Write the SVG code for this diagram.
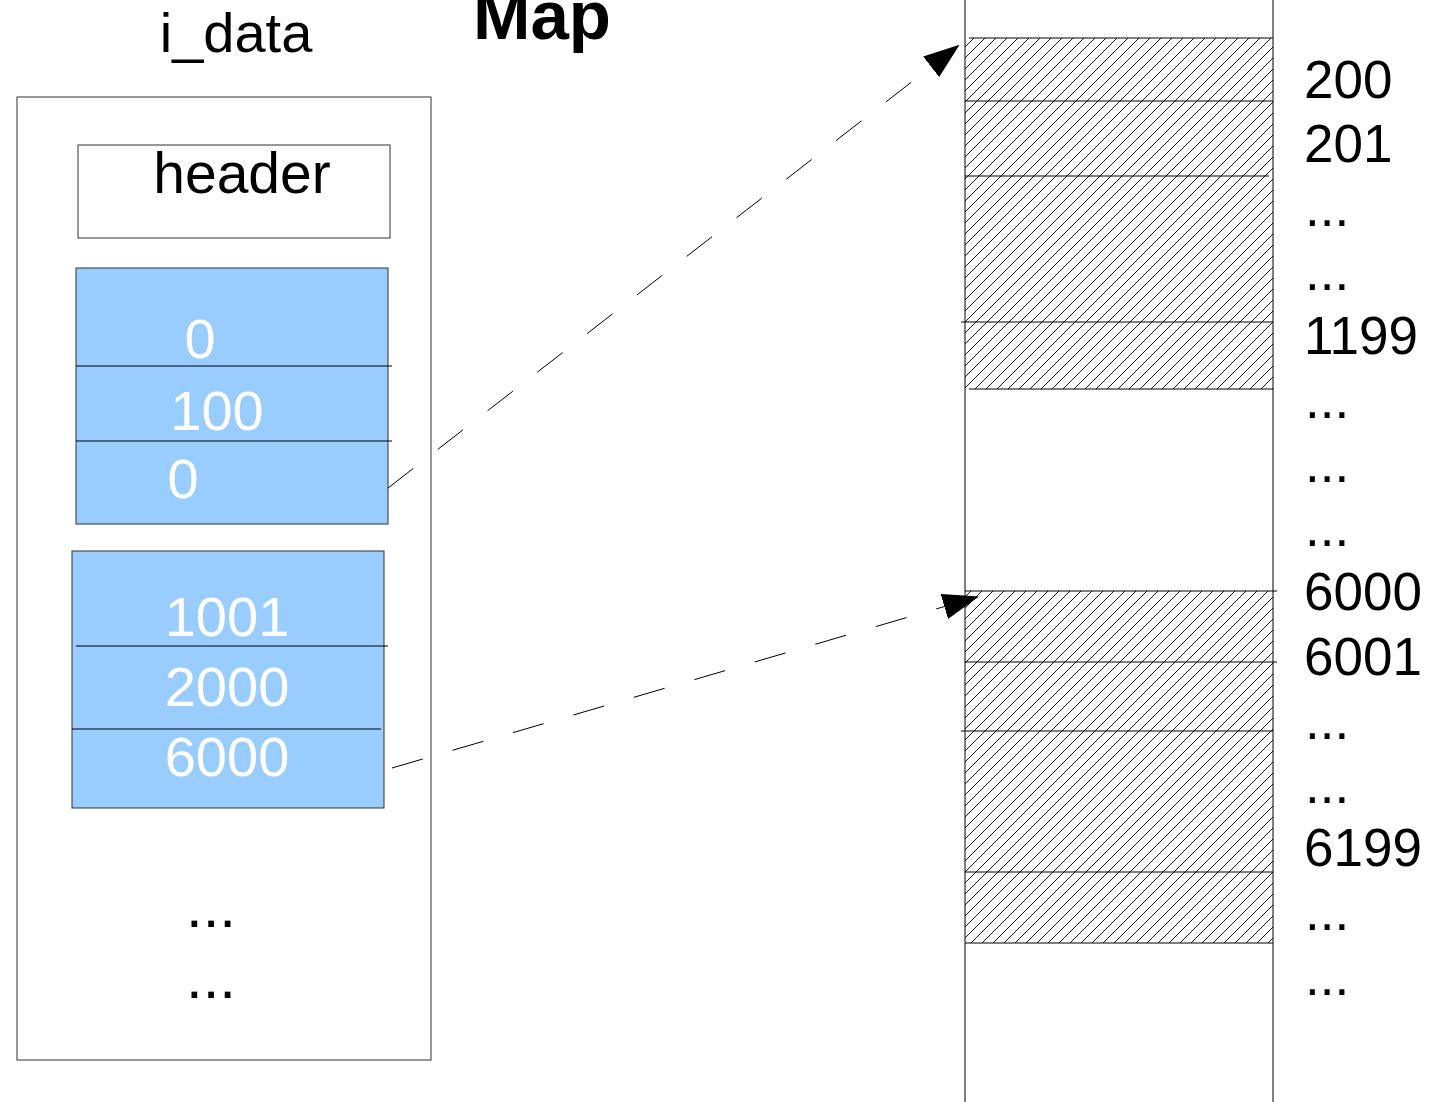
<svg xmlns="http://www.w3.org/2000/svg" width="1430" height="1102" viewBox="0 0 1430 1102">
<style>
.t{font-family:"Liberation Sans",Arial,sans-serif;fill:#000}
.w{font-family:"Liberation Sans",Arial,sans-serif;fill:#fff;font-size:56px;text-anchor:middle}
.r{font-size:53px}
.box{fill:#fff;stroke:#333;stroke-width:1}
.blue{fill:#99ccff;stroke:#333;stroke-width:1}
.ln{stroke:#000;stroke-width:1;fill:none}
.dash{stroke:#000;stroke-width:1;fill:none;stroke-dasharray:32 31}
</style>
<defs>
<pattern id="hatch" patternUnits="userSpaceOnUse" width="11" height="11">
<path d="M-1,1 L1,-1 M0,11 L11,0 M10,12 L12,10" stroke="#000" stroke-width="0.9"/>
</pattern>
<marker id="ah" markerWidth="36" markerHeight="26" refX="34" refY="13" orient="auto" markerUnits="userSpaceOnUse">
<path d="M0,0 L36,13 L0,26 Z" fill="#000"/>
</marker>
</defs>
<rect width="1430" height="1102" fill="#fff"/>

<text class="t" x="236" y="52" font-size="56" text-anchor="middle">i_data</text>
<text class="t" x="542" y="39" font-size="69" font-weight="bold" text-anchor="middle">Map</text>

<g id="idata">
<rect class="box" x="17" y="97" width="414" height="963"/>
</g>
<g id="header">
<rect class="box" x="78" y="145" width="312" height="93"/>
<text class="t" x="242" y="193" font-size="57" text-anchor="middle">header</text>
</g>
<g id="block1">
<rect class="blue" x="76" y="268" width="312" height="256"/>
<line class="ln" x1="76" y1="366" x2="392" y2="366"/>
<line class="ln" x1="76" y1="441" x2="392" y2="441"/>
<text class="w" x="200" y="358">0</text>
<text class="w" x="217" y="430">100</text>
<text class="w" x="183" y="498">0</text>
</g>
<g id="block2">
<rect class="blue" x="72" y="551" width="312" height="257"/>
<line class="ln" x1="76" y1="646" x2="388" y2="646"/>
<line class="ln" x1="72" y1="729" x2="381" y2="729"/>
<text class="w" x="227" y="636">1001</text>
<text class="w" x="227" y="706">2000</text>
<text class="w" x="227" y="776">6000</text>
</g>
<g id="dots-left">
<text class="t" x="211" y="927" font-size="60" text-anchor="middle">...</text>
<text class="t" x="211" y="998" font-size="60" text-anchor="middle">...</text>
</g>

<g id="memory">
<rect x="965" y="38" width="308" height="351" fill="url(#hatch)"/>
<rect x="965" y="591" width="308" height="352" fill="url(#hatch)"/>
<line class="ln" x1="965" y1="0" x2="965" y2="1102" stroke="#555"/>
<line class="ln" x1="1273" y1="0" x2="1273" y2="1102" stroke="#555"/>
<line class="ln" x1="969" y1="38" x2="1273" y2="38"/>
<line class="ln" x1="965" y1="101" x2="1273" y2="101"/>
<line class="ln" x1="965" y1="176" x2="1269" y2="176"/>
<line class="ln" x1="961" y1="322" x2="1273" y2="322"/>
<line class="ln" x1="969" y1="389" x2="1273" y2="389"/>
<line class="ln" x1="965" y1="591" x2="1277" y2="591"/>
<line class="ln" x1="965" y1="662" x2="1277" y2="662"/>
<line class="ln" x1="961" y1="731" x2="1273" y2="731"/>
<line class="ln" x1="965" y1="872" x2="1273" y2="872"/>
<line class="ln" x1="965" y1="943" x2="1273" y2="943"/>
</g>
<g id="labels" class="t r">
<text x="1304" y="98">200</text>
<text x="1304" y="162">201</text>
<text x="1305" y="226">...</text>
<text x="1305" y="290">...</text>
<text x="1304" y="354">1199</text>
<text x="1305" y="418">...</text>
<text x="1305" y="482">...</text>
<text x="1305" y="546">...</text>
<text x="1304" y="610">6000</text>
<text x="1304" y="675">6001</text>
<text x="1305" y="739">...</text>
<text x="1305" y="803">...</text>
<text x="1304" y="866">6199</text>
<text x="1305" y="930">...</text>
<text x="1305" y="995">...</text>
</g>

<g id="connectors">
<line class="dash" x1="388" y1="488" x2="958" y2="46" marker-end="url(#ah)"/>
<line class="dash" x1="392" y1="768" x2="977" y2="597" marker-end="url(#ah)"/>
</g>
</svg>
